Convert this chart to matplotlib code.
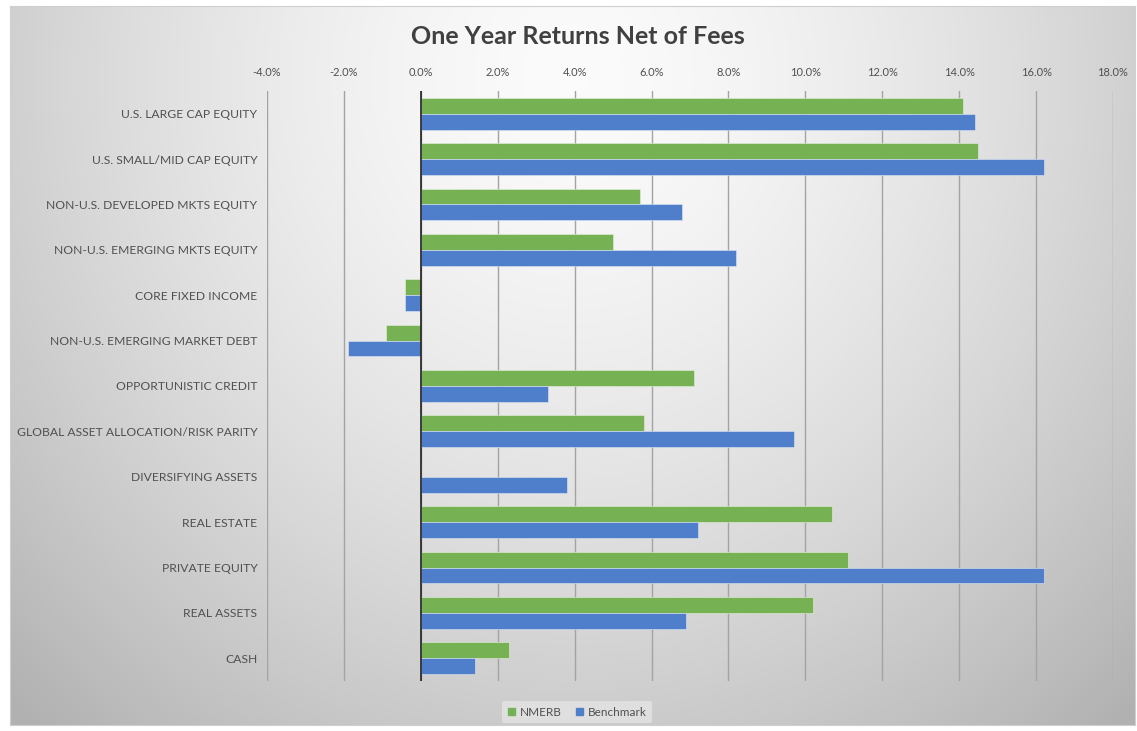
import numpy as np
import matplotlib
matplotlib.use("Agg")
import matplotlib.pyplot as plt
from matplotlib.patches import Patch

categories = [
    "U.S. LARGE CAP EQUITY",
    "U.S. SMALL/MID CAP EQUITY",
    "NON-U.S. DEVELOPED MKTS EQUITY",
    "NON-U.S. EMERGING MKTS EQUITY",
    "CORE FIXED INCOME",
    "NON-U.S. EMERGING MARKET DEBT",
    "OPPORTUNISTIC CREDIT",
    "GLOBAL ASSET ALLOCATION/RISK PARITY",
    "DIVERSIFYING ASSETS",
    "REAL ESTATE",
    "PRIVATE EQUITY",
    "REAL ASSETS",
    "CASH",
]
nmerb = [14.1, 14.5, 5.7, 5.0, -0.4, -0.9, 7.1, 5.8, 0.0, 10.7, 11.1, 10.2, 2.3]
benchmark = [14.4, 16.2, 6.8, 8.2, -0.4, -1.9, 3.3, 9.7, 3.8, 7.2, 16.2, 6.9, 1.4]
xticks = [-4, -2, 0, 2, 4, 6, 8, 10, 12, 14, 16, 18]

green = "#76B153"
blue = "#4F7FCB"
text_col = "#505050"

plt.rcParams['font.family'] = ['Lato', 'DejaVu Sans']

fig = plt.figure(figsize=(11.37, 7.31), dpi=100)

# --- background panel with soft radial gradient ---
bg = fig.add_axes([10 / 1137, 6 / 731, 1125 / 1137, 719 / 731])
h, w = 300, 470
yy, xx = np.mgrid[0:h, 0:w]
cx, cy = 0.5 * w, 0.1 * h
d = np.sqrt(((xx - cx) / (0.6 * w)) ** 2 + ((yy - cy) / (1.0 * h)) ** 2)
shade = 0.985 - 0.22 * np.clip(d, 0, 1.2) ** 1.5
bg.imshow(np.dstack([shade] * 3), aspect='auto', extent=[0, 1, 0, 1])
bg.set_xticks([])
bg.set_yticks([])
for s in bg.spines.values():
    s.set_color('#cfcfcf')
    s.set_linewidth(0.8)

# --- main chart ---
ax = fig.add_axes([267 / 1137, 1 - 681 / 731, (1113 - 267) / 1137, (681 - 91) / 731])
ax.patch.set_alpha(0)

y = np.arange(len(categories))
bh = 0.35
ax.barh(y - bh / 2, nmerb, height=bh, color=green, edgecolor='#e8f0e0', linewidth=0.4, zorder=3)
ax.barh(y + bh / 2, benchmark, height=bh, color=blue, edgecolor='#dfe6f3', linewidth=0.4, zorder=3)

ax.set_xlim(-4, 18)
ax.set_ylim(len(categories) - 0.5, -0.5)
ax.set_xticks(xticks)
ax.set_xticklabels([f"{t:.1f}%" for t in xticks])
ax.xaxis.tick_top()
ax.tick_params(axis='x', length=0, pad=9, labelsize=8, labelcolor=text_col)
ax.set_yticks(y)
ax.set_yticklabels(categories)
ax.tick_params(axis='y', length=0, pad=7, labelsize=8.7, labelcolor=text_col)

ax.grid(axis='x', color='#a3a3a3', linewidth=1, zorder=0)
ax.axvline(0, color='#222222', linewidth=1.2, zorder=4)
for s in ax.spines.values():
    s.set_visible(False)

fig.text(578 / 1137, 1 - 37 / 731, "One Year Returns Net of Fees",
         ha='center', va='center', fontsize=18, fontweight='bold', color='#404040')

handles = [Patch(color=green, label='NMERB'), Patch(color=blue, label='Benchmark')]
leg = fig.legend(handles=handles, loc='center', bbox_to_anchor=(577 / 1137, 1 - 712 / 731),
                 ncol=2, fontsize=8.5, frameon=True, handlelength=0.6, handleheight=0.6,
                 handletextpad=0.4, columnspacing=1.2, borderpad=0.5)
leg.get_frame().set_facecolor('#e4e4e4')
leg.get_frame().set_edgecolor('none')
leg.get_frame().set_alpha(0.8)
for t in leg.get_texts():
    t.set_color(text_col)

fig.savefig("out.png", dpi=100, facecolor='white')
